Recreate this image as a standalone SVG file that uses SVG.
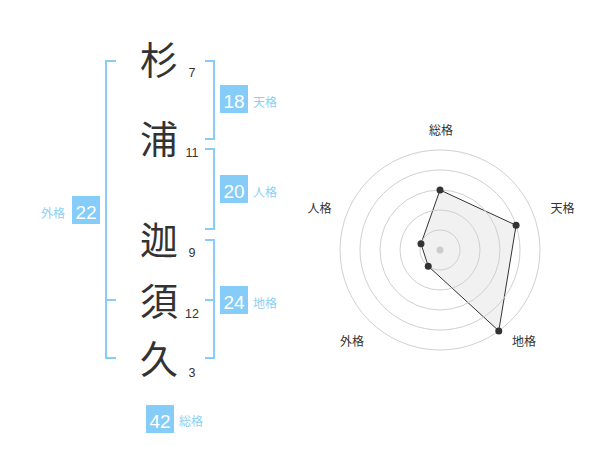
<svg xmlns="http://www.w3.org/2000/svg" width="600" height="470" viewBox="0 0 600 470">
<style>
.kanji{font-family:"Noto Sans CJK JP","Noto Sans",sans-serif;font-size:38px;fill:#333;text-anchor:middle}
.stroke{font-family:"Liberation Sans",Arial,sans-serif;font-size:12.5px;fill:#333;text-anchor:middle}
.br{fill:none;stroke:#88cdf7;stroke-width:2}
.box{fill:#85cdf8}
.num{font-family:"Liberation Sans",Arial,sans-serif;font-size:19px;fill:#fff;text-anchor:middle}
.lbl{font-family:"Noto Sans CJK JP",sans-serif;font-size:12px;fill:#8ccff5}
.ring{fill:none;stroke:#d0d0d0;stroke-width:1}
.axl{font-family:"Noto Sans CJK JP",sans-serif;font-size:12px;fill:#333;text-anchor:middle}
.pt{fill:#333}
</style>
<rect width="600" height="470" fill="#fff"/>
<g id="name">
<text class="kanji" x="159" y="74">杉</text>
<text class="kanji" x="159" y="153">浦</text>
<text class="kanji" x="159" y="254">迦</text>
<text class="kanji" x="159" y="315">須</text>
<text class="kanji" x="159" y="373">久</text>
<text class="stroke" x="192" y="77">7</text>
<text class="stroke" x="192" y="157">11</text>
<text class="stroke" x="192" y="257">9</text>
<text class="stroke" x="192" y="318">12</text>
<text class="stroke" x="192" y="377">3</text>
</g>
<g id="connectors">
<path class="br" d="M116,61 H106 V358 H116 M106,300 H116"/>
<path class="br" d="M205,61 H214 V139 H205"/>
<path class="br" d="M205,149 H214 V229 H205"/>
<path class="br" d="M205,240 H214 V358 H205 M205,300 H214"/>
</g>
<g id="tenkaku">
<rect class="box" x="220" y="85" width="28" height="28"/>
<text class="num" x="234" y="108">18</text>
<text class="lbl" x="253" y="107">天格</text>
</g>
<g id="jinkaku">
<rect class="box" x="220" y="175" width="28" height="28"/>
<text class="num" x="234" y="198">20</text>
<text class="lbl" x="253" y="197">人格</text>
</g>
<g id="chikaku">
<rect class="box" x="220" y="286" width="28" height="28"/>
<text class="num" x="234" y="309">24</text>
<text class="lbl" x="253" y="308">地格</text>
</g>
<g id="gaikaku">
<rect class="box" x="72" y="196" width="28" height="28"/>
<text class="num" x="86" y="219">22</text>
<text class="lbl" x="41" y="218">外格</text>
</g>
<g id="soukaku">
<rect class="box" x="146" y="405" width="28" height="28"/>
<text class="num" x="160" y="428">42</text>
<text class="lbl" x="179" y="426">総格</text>
</g>
<g id="radar">
<polygon points="440,190 516.08,225.28 498.78,330.9 428.24,266.18 420.98,243.82" fill="#ececec" fill-opacity="0.75" stroke="#333" stroke-width="1"/>
<circle class="ring" cx="440" cy="250" r="20"/>
<circle class="ring" cx="440" cy="250" r="40"/>
<circle class="ring" cx="440" cy="250" r="60"/>
<circle class="ring" cx="440" cy="250" r="80"/>
<circle class="ring" cx="440" cy="250" r="100"/>
<circle cx="440" cy="250" r="3.5" fill="#ccc"/>
<circle class="pt" cx="440" cy="190" r="3.5"/>
<circle class="pt" cx="516.08" cy="225.28" r="3.5"/>
<circle class="pt" cx="498.78" cy="330.9" r="3.5"/>
<circle class="pt" cx="428.24" cy="266.18" r="3.5"/>
<circle class="pt" cx="420.98" cy="243.82" r="3.5"/>
<text class="axl" x="441" y="134.5">総格</text>
<text class="axl" x="562.5" y="213">天格</text>
<text class="axl" x="524" y="346">地格</text>
<text class="axl" x="352" y="346">外格</text>
<text class="axl" x="319.5" y="213">人格</text>
</g>
</svg>
